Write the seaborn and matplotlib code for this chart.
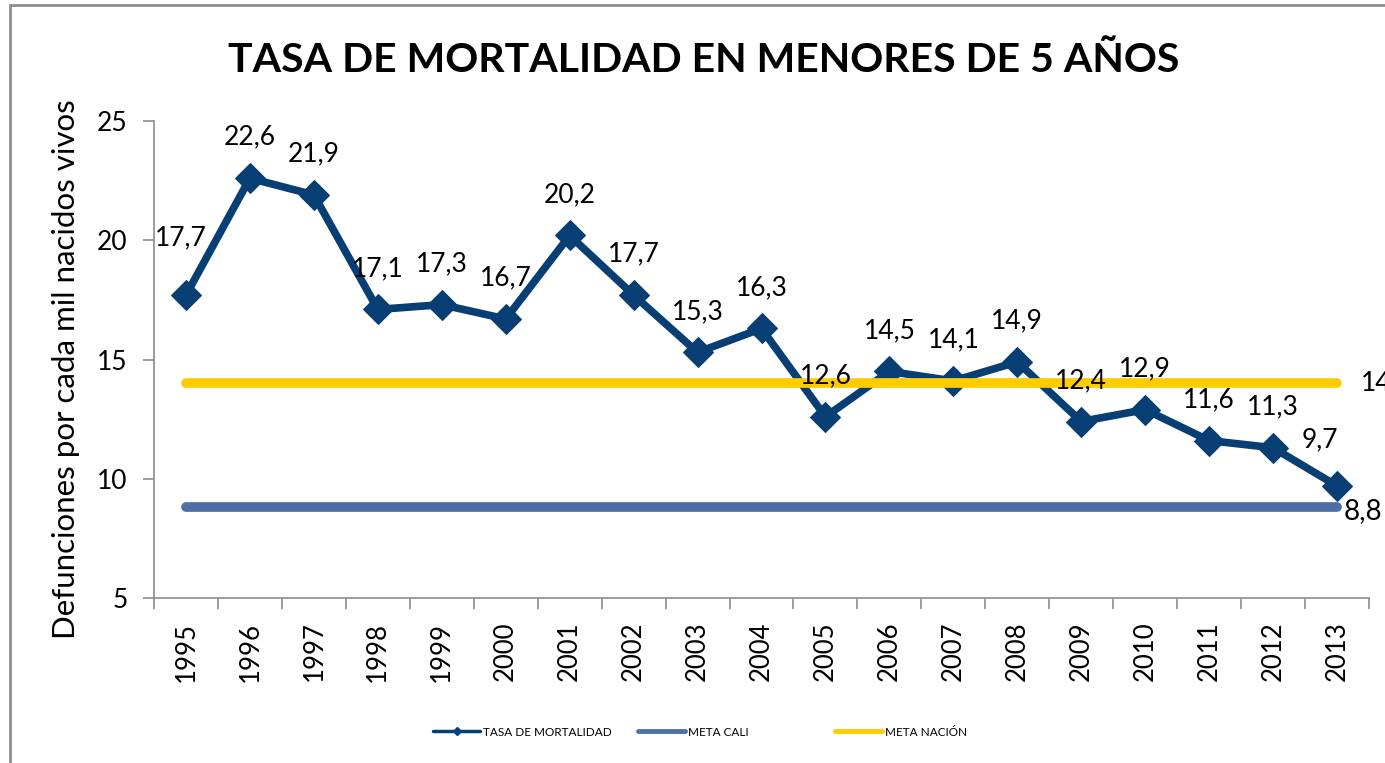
import numpy as np
import pandas as pd
import matplotlib
matplotlib.use("Agg")
import matplotlib.pyplot as plt
from matplotlib.patches import Rectangle
from matplotlib.lines import Line2D
import seaborn as sns

# ---- data ----
years = ["1995", "1996", "1997", "1998", "1999", "2000", "2001", "2002", "2003", "2004",
         "2005", "2006", "2007", "2008", "2009", "2010", "2011", "2012", "2013"]
tasa = [17.7, 22.6, 21.9, 17.1, 17.3, 16.7, 20.2, 17.7, 15.3, 16.3,
        12.6, 14.5, 14.1, 14.9, 12.4, 12.9, 11.6, 11.3, 9.7]
meta_cali = 8.8
meta_nacion = 14
title = "TASA DE MORTALIDAD EN MENORES DE 5 AÑOS"
ylabel = "Defunciones por cada mil nacidos vivos"
series_names = ["TASA DE MORTALIDAD", "META CALI", "META NACIÓN"]

sns.set_theme(style="white")
plt.rcParams["font.family"] = ["Lato", "DejaVu Sans"]
plt.rcParams["text.color"] = "black"
plt.rcParams["xtick.color"] = "black"
plt.rcParams["ytick.color"] = "black"

NAVY = "#073E73"
STEEL = "#4E6FA3"
YELLOW = "#FFCC00"
GRAY = "#8C8C8C"

fig = plt.figure(figsize=(13.85, 7.63), dpi=100)
ax = fig.add_axes([154/1385, 1-598/763, 1215/1385, 477/763])

pos = np.arange(len(years))
df = pd.DataFrame({"pos": pos, "tasa": tasa})
sns.lineplot(data=df, x="pos", y="tasa", ax=ax, color=NAVY, linewidth=5.5,
             marker="D", markersize=15, markeredgecolor=NAVY, zorder=3)

ref = pd.DataFrame({"pos": [pos[0], pos[-1]]})
ref["cali"] = meta_cali
ref["nacion"] = meta_nacion
sns.lineplot(data=ref, x="pos", y="cali", ax=ax, color=STEEL, linewidth=7,
             solid_capstyle="round", zorder=4)
sns.lineplot(data=ref, x="pos", y="nacion", ax=ax, color=YELLOW, linewidth=7,
             solid_capstyle="round", zorder=4)

def fmt(v):
    s = f"{v:.1f}".replace(".", ",")
    return s[:-2] if s.endswith(",0") else s

# data labels
for i, v in enumerate(tasa):
    dx, dy = 0, 29.5
    if i == 0:
        dx, dy = -4, 41
    elif i == len(tasa) - 1:
        dx, dy = -12, 33
    ax.annotate(fmt(v), (pos[i], v), xytext=(dx, dy), textcoords="offset points",
                ha="center", va="center", fontsize=19, color="black", zorder=6,
                annotation_clip=False)

ax.annotate(fmt(meta_nacion), (pos[-1], meta_nacion), xytext=(17, 0),
            textcoords="offset points", ha="left", va="center", fontsize=19,
            annotation_clip=False)
ax.annotate(fmt(meta_cali), (pos[-1], meta_cali), xytext=(5, -3),
            textcoords="offset points", ha="left", va="center", fontsize=20,
            annotation_clip=False)

ax.set_xlim(-0.5, len(years) - 0.5)
ax.set_ylim(5, 25)
ax.set_yticks([5, 10, 15, 20, 25])
ax.set_yticklabels(["5", "10", "15", "20", "25"], fontsize=19)
ax.set_xticks(np.arange(-0.5, len(years)), labels=[""] * (len(years) + 1))
ax.set_xticks(pos, labels=years, minor=True)
ax.tick_params(axis="x", which="major", length=8, width=1.2, color=GRAY, direction="out", bottom=True)
ax.tick_params(axis="x", which="minor", length=0, pad=17, labelsize=18.5, labelrotation=90)
ax.tick_params(axis="y", length=8, width=1.2, color=GRAY, direction="out", pad=11, left=True)
ax.set_xlabel("")
ax.set_ylabel("")
for s in ["top", "right"]:
    ax.spines[s].set_visible(False)
for s in ["left", "bottom"]:
    ax.spines[s].set_color(GRAY)
    ax.spines[s].set_linewidth(1.2)
ax.grid(False)

fig.text(704/1385, 1-61/763, title, ha="center", va="center", fontsize=29.5,
         fontweight="bold", color="black")
fig.text(66/1385, 1-369/763, ylabel, ha="center", va="center", rotation=90,
         fontsize=22.5, color="black")

handles = [
    Line2D([], [], color=NAVY, linewidth=2.5, marker="D", markersize=4),
    Line2D([], [], color=STEEL, linewidth=3.5),
    Line2D([], [], color=YELLOW, linewidth=3.5),
]
legend_x = [433, 638, 835]
for h, name, lx in zip(handles, series_names, legend_x):
    fig.legend([h], [name], loc="center left", bbox_to_anchor=(lx/1385, 1-732/763),
               frameon=False, fontsize=8.5, handlelength=4.0, handletextpad=0.25,
               borderpad=0, borderaxespad=0, labelcolor="black")

fig.patches.append(Rectangle((10/1385, -0.1), 1.2, 1.1 - 5/763, transform=fig.transFigure,
                             fill=False, edgecolor=GRAY, linewidth=2, figure=fig))

fig.savefig("out.png", dpi=100)
